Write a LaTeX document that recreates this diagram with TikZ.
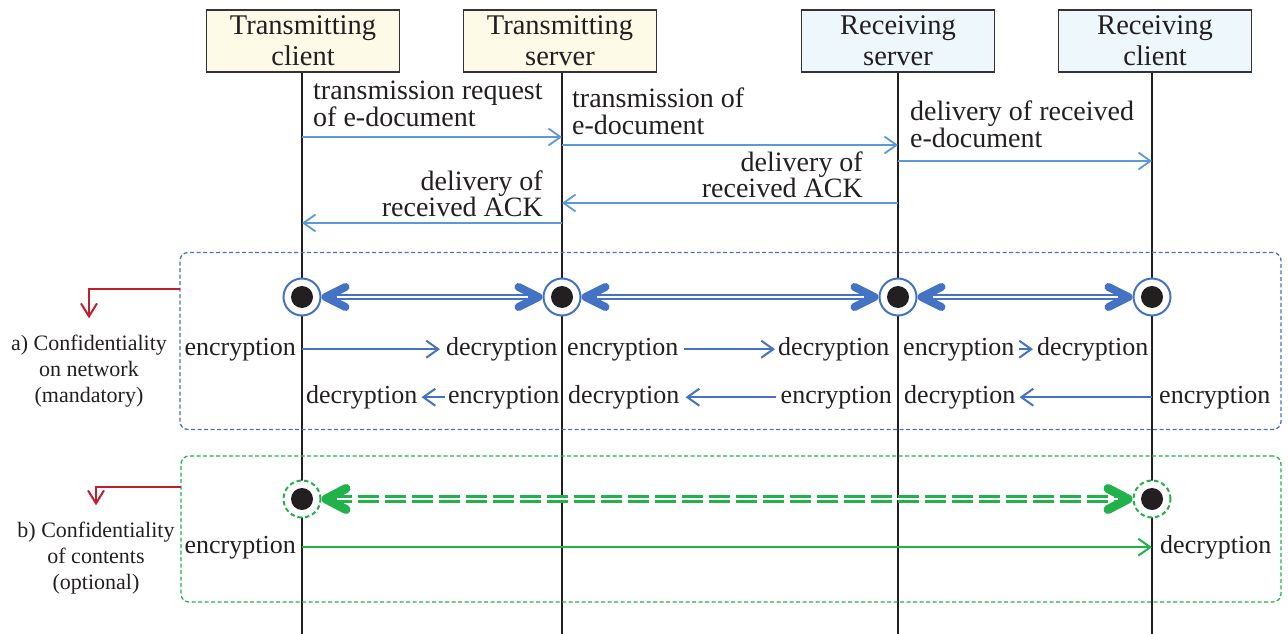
\documentclass[tikz,border=0pt]{standalone}
\usepackage{fontspec}
\setmainfont{Liberation Serif}
\usetikzlibrary{arrows.meta,calc}
\definecolor{msgblue}{HTML}{5B9BD5}
\definecolor{nblue}{HTML}{4472C4}
\definecolor{grn}{HTML}{22B24C}
\definecolor{redc}{HTML}{C01F2F}
\definecolor{yfill}{HTML}{FDFBE7}
\definecolor{bfill}{HTML}{EEF8FC}
\definecolor{txt}{HTML}{231F20}
\definecolor{boxborder}{HTML}{333333}
\tikzset{
  tipA/.tip={Straight Barb[round,length=20,width=20,line width=8]},
  tipG/.tip={Straight Barb[round,length=20,width=21,line width=9]}
}
\begin{document}
\begin{tikzpicture}[x=1pt,y=-1pt,
  lifebox/.style={draw=boxborder, line width=1.5, minimum width=193, minimum height=62,
    inner sep=0, align=center, font=\fontsize{28.5}{31}\selectfont, text=txt},
  lifeline/.style={draw=txt, line width=1.3},
  msg/.style={draw=msgblue, line width=1.8, -{Straight Barb[length=12,width=17,line width=1.8]}},
  msglab/.style={inner sep=0, font=\fontsize{28}{26.5}\selectfont, text=txt},
  cryp/.style={inner sep=0, font=\fontsize{26}{26}\selectfont, text=txt},
  leftlab/.style={inner sep=0, align=center, font=\fontsize{22}{26}\selectfont, text=txt},
  secbox/.style={line width=1.3, dash pattern=on 4 off 2.5, rounded corners=8, inner sep=0},
  redarr/.style={draw=redc, line width=2, -{Straight Barb[length=13,width=16,line width=2]}},
  ringA/.style={circle, draw=nblue, line width=2, fill=white, minimum size=37, inner sep=0},
  ringG/.style={circle, draw=grn, line width=2, dash pattern=on 4.5 off 3, fill=white, minimum size=37, inner sep=0},
  dotn/.style={circle, fill=txt, minimum size=22, inner sep=0},
  dblA/.style={draw=nblue, line width=5.5, {tipA}-{tipA}},
  dblG/.style={draw=grn, line width=7.5, dash pattern=on 21 off 6, {tipG}-{tipG}},
  stripeA/.style={draw=white, line width=1.7, shorten <=15, shorten >=15},
  stripeG/.style={draw=white, line width=2.3, shorten <=15, shorten >=15},
  cryA/.style={draw=nblue, line width=2, -{Straight Barb[length=12,width=17,line width=2]}},
  cryG/.style={draw=grn, line width=2, -{Straight Barb[length=12,width=17,line width=2]}}
]
\useasboundingbox (0,0) rectangle (1288,634);

% participants
\node[lifebox, fill=yfill] (tc) at (303,41) {Transmitting\\client};
\node[lifebox, fill=yfill] (ts) at (560,41) {Transmitting\\server};
\node[lifebox, fill=bfill] (rs) at (898,41) {Receiving\\server};
\node[lifebox, fill=bfill] (rc) at (1155,41) {Receiving\\client};

\coordinate (tcb) at (302,634);
\coordinate (tsb) at (562,634);
\coordinate (rsb) at (898,634);
\coordinate (rcb) at (1152,634);
\draw[lifeline] (tc.south -| tcb) -- (tcb);
\draw[lifeline] (ts.south -| tsb) -- (tsb);
\draw[lifeline] (rs.south -| rsb) -- (rsb);
\draw[lifeline] (rc.south -| rcb) -- (rcb);

% messages
\coordinate (m1a) at (302,137); \coordinate (m1b) at (562,137);
\coordinate (m2a) at (562,145); \coordinate (m2b) at (898,145);
\coordinate (m3a) at (898,161); \coordinate (m3b) at (1152,161);
\coordinate (m4a) at (898,203); \coordinate (m4b) at (562,203);
\coordinate (m5a) at (562,223); \coordinate (m5b) at (302,223);
\draw[msg] (m1a) -- (m1b);
\draw[msg] (m2a) -- (m2b);
\draw[msg] (m3a) -- (m3b);
\draw[msg] (m4a) -- (m4b);
\draw[msg] (m5a) -- (m5b);
\node[msglab, anchor=base west, align=left] (t1) at (313,126) {transmission request\\of e-document};
\node[msglab, anchor=base west, align=left] (t2) at (572,134) {transmission of\\e-document};
\node[msglab, anchor=base west, align=left] (t3) at (910,147) {delivery of received\\e-document};
\node[msglab, anchor=base east, align=right] (t4) at (863,197.5) {delivery of\\received ACK};
\node[msglab, anchor=base east, align=right] (t5) at (543,216.5) {delivery of\\received ACK};

% section a
\node[secbox, draw=nblue, minimum width=1101, minimum height=177] (secA) at (730.5,341) {};
\coordinate (ra) at (180,289);
\node[leftlab, anchor=base] (labA) at (89,402) {a) Confidentiality\\on network\\(mandatory)};
\draw[redarr, shorten >=16] (ra) -| (labA.north);

\node[ringA] (a1) at (302,297) {};
\node[ringA] (a2) at (562,297) {};
\node[ringA] (a3) at (898,297) {};
\node[ringA] (a4) at (1152,297) {};
\foreach \n in {a1,a2,a3,a4} \node[dotn] at (\n) {};
\draw[dblA] (a1) -- (a2); \draw[stripeA] (a1) -- (a2);
\draw[dblA] (a2) -- (a3); \draw[stripeA] (a2) -- (a3);
\draw[dblA] (a3) -- (a4); \draw[stripeA] (a3) -- (a4);

\node[cryp, anchor=base east] (e1) at (296,355) {encryption};
\node[cryp, anchor=base west] (d1) at (446,355) {decryption};
\node[cryp, anchor=base west] (e2) at (567,355) {encryption};
\node[cryp, anchor=base west] (d2) at (778,355) {decryption};
\node[cryp, anchor=base west] (e3) at (903,355) {encryption};
\node[cryp, anchor=base west] (d3) at (1037,355) {decryption};
\draw[cryA, shorten <=6, shorten >=6] (e1.east) -- (e1.east -| d1.west);
\draw[cryA, shorten <=5, shorten >=3] (e2.east) -- (e2.east -| d2.west);
\draw[cryA, shorten <=4, shorten >=4] (e3.east) -- (e3.east -| d3.west);

\node[cryp, anchor=base west] (d4) at (306,403) {decryption};
\node[cryp, anchor=base west] (e4) at (448,403) {encryption};
\node[cryp, anchor=base west] (d5) at (568,403) {decryption};
\node[cryp, anchor=base west] (e5) at (780.5,403) {encryption};
\node[cryp, anchor=base west] (d6) at (904,403) {decryption};
\node[cryp, anchor=base west] (e6) at (1159,403) {encryption};
\draw[cryA, shorten <=3, shorten >=4] (e4.west) -- (e4.west -| d4.east);
\draw[cryA, shorten <=5, shorten >=6] (e5.west) -- (e5.west -| d5.east);
\draw[cryA, shorten <=7, shorten >=4] (e6.west) -- (e6.west -| d6.east);

% section b
\node[secbox, draw=grn, minimum width=1100, minimum height=146] (secB) at (731,529) {};
\coordinate (rb) at (181,487);
\node[leftlab, anchor=base] (labB) at (96,589) {b) Confidentiality\\of contents\\(optional)};
\draw[redarr, shorten >=16] (rb) -| (labB.north);

\node[ringG] (g1) at (302,499) {};
\node[ringG] (g2) at (1152,499) {};
\foreach \n in {g1,g2} \node[dotn] at (\n) {};
\draw[dblG] (g1) -- (g2); \draw[stripeG] (g1) -- (g2);

\node[cryp, anchor=base east] (ge) at (296,553) {encryption};
\node[cryp, anchor=base west] (gd) at (1160,553) {decryption};
\draw[cryG, shorten <=6, shorten >=8] (ge.east) -- (ge.east -| gd.west);
\end{tikzpicture}
\end{document}
